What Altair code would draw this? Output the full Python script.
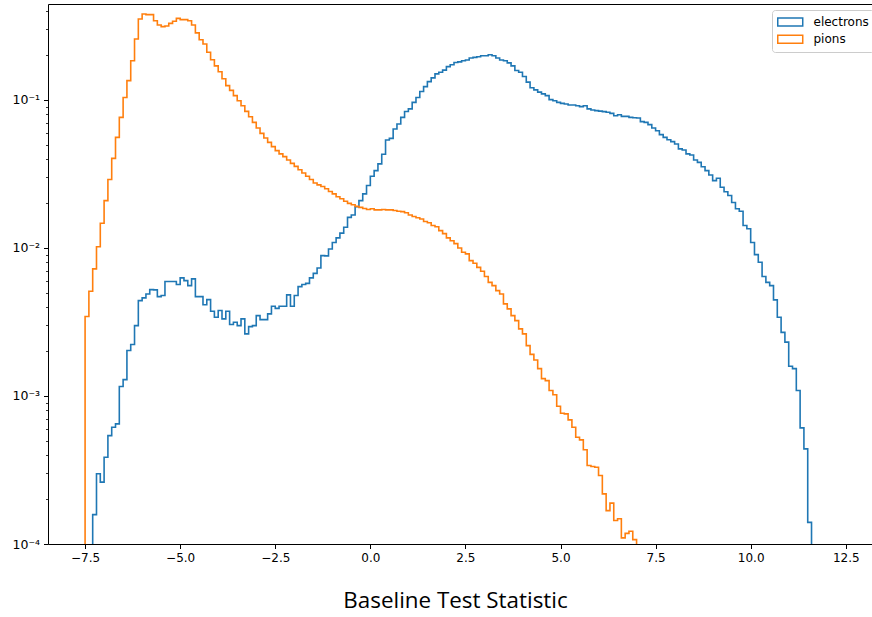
import altair as alt
import pandas as pd

# ---- data (normalised histogram, bin width 0.1) ----
BIN_WIDTH = 0.1
SERIES = ["electrons", "pions"]
COLORS = ["#1f77b4", "#ff7f0e"]

ELECTRON_FIRST_EDGE = -7.3
electron_values = [
    1.58e-4, 2.98e-4, 2.62e-4, 3.86e-4, 5.40e-4, 6.15e-4, 6.48e-4, 1.16e-3, 1.29e-3, 2.03e-3,
    2.23e-3, 2.99e-3, 4.41e-3, 4.60e-3, 4.89e-3, 5.23e-3, 5.21e-3, 4.69e-3, 4.77e-3, 5.93e-3,
    5.93e-3, 5.93e-3, 5.66e-3, 6.28e-3, 6.02e-3, 5.57e-3, 6.18e-3, 4.69e-3, 4.69e-3, 4.13e-3,
    4.48e-3, 3.74e-3, 3.40e-3, 3.78e-3, 3.32e-3, 3.74e-3, 3.04e-3, 3.15e-3, 2.99e-3, 3.32e-3,
    2.63e-3, 2.94e-3, 2.99e-3, 3.49e-3, 3.28e-3, 3.28e-3, 3.59e-3, 4.04e-3, 3.91e-3, 4.04e-3,
    4.04e-3, 4.82e-3, 4.04e-3, 4.77e-3, 5.48e-3, 5.66e-3, 5.77e-3, 6.28e-3, 6.74e-3, 7.33e-3,
    8.88e-3, 8.85e-3, 9.85e-3, 1.09e-2, 1.17e-2, 1.26e-2, 1.38e-2, 1.61e-2, 1.67e-2, 1.90e-2,
    2.09e-2, 2.32e-2, 2.64e-2, 3.05e-2, 3.33e-2, 3.70e-2, 4.30e-2, 5.37e-2, 5.50e-2, 6.37e-2,
    6.88e-2, 7.63e-2, 8.36e-2, 8.70e-2, 9.63e-2, 0.104, 0.114, 0.123, 0.133, 0.141,
    0.150, 0.154, 0.159, 0.168, 0.173, 0.179, 0.181, 0.184, 0.186, 0.192,
    0.194, 0.196, 0.199, 0.199, 0.202, 0.199, 0.192, 0.186, 0.184, 0.178,
    0.170, 0.158, 0.154, 0.144, 0.132, 0.121, 0.117, 0.113, 0.110, 0.107,
    0.1005, 9.89e-2, 9.63e-2, 9.48e-2, 9.39e-2, 9.25e-2, 9.25e-2, 9.15e-2, 9.01e-2, 9.15e-2,
    8.70e-2, 8.56e-2, 8.47e-2, 8.40e-2, 8.34e-2, 8.27e-2, 8.12e-2, 7.83e-2, 7.95e-2, 7.75e-2,
    7.75e-2, 7.63e-2, 7.59e-2, 7.56e-2, 7.14e-2, 7.06e-2, 6.81e-2, 6.47e-2, 6.20e-2, 5.83e-2,
    5.59e-2, 5.39e-2, 5.23e-2, 5.04e-2, 4.67e-2, 4.59e-2, 4.32e-2, 4.25e-2, 3.93e-2, 3.79e-2,
    3.54e-2, 3.33e-2, 3.11e-2, 2.85e-2, 2.96e-2, 2.57e-2, 2.40e-2, 2.26e-2, 2.03e-2, 1.84e-2,
    1.77e-2, 1.42e-2, 1.35e-2, 1.09e-2, 9.02e-3, 8.00e-3, 6.41e-3, 5.86e-3, 5.57e-3, 4.46e-3,
    3.40e-3, 2.69e-3, 2.31e-3, 1.59e-3, 1.53e-3, 1.09e-3, 6.09e-4, 4.39e-4, 1.40e-4,
]

PION_FIRST_EDGE = -7.5
pion_values = [
    3.44e-3, 5.10e-3, 7.22e-3, 1.02e-2, 1.47e-2, 2.09e-2, 2.90e-2, 4.03e-2, 5.59e-2, 7.63e-2,
    0.104, 0.135, 0.184, 0.258, 0.352, 0.381, 0.377, 0.377, 0.343, 0.321,
    0.313, 0.316, 0.329, 0.340, 0.356, 0.349, 0.349, 0.343, 0.321, 0.284,
    0.255, 0.239, 0.210, 0.187, 0.170, 0.155, 0.139, 0.125, 0.116, 0.107,
    9.89e-2, 9.15e-2, 8.37e-2, 7.71e-2, 7.06e-2, 6.47e-2, 5.95e-2, 5.54e-2, 5.17e-2, 4.84e-2,
    4.55e-2, 4.32e-2, 4.14e-2, 3.93e-2, 3.73e-2, 3.56e-2, 3.38e-2, 3.21e-2, 3.05e-2, 2.90e-2,
    2.75e-2, 2.67e-2, 2.60e-2, 2.51e-2, 2.41e-2, 2.32e-2, 2.22e-2, 2.15e-2, 2.07e-2, 2.00e-2,
    1.96e-2, 1.91e-2, 1.88e-2, 1.85e-2, 1.82e-2, 1.84e-2, 1.81e-2, 1.81e-2, 1.82e-2, 1.81e-2,
    1.81e-2, 1.79e-2, 1.77e-2, 1.76e-2, 1.73e-2, 1.67e-2, 1.63e-2, 1.60e-2, 1.57e-2, 1.51e-2,
    1.48e-2, 1.42e-2, 1.39e-2, 1.31e-2, 1.25e-2, 1.17e-2, 1.12e-2, 1.07e-2, 1.00e-2, 9.35e-3,
    9.12e-3, 8.21e-3, 7.88e-3, 7.40e-3, 6.96e-3, 6.41e-3, 5.86e-3, 5.57e-3, 5.15e-3, 4.89e-3,
    4.19e-3, 3.88e-3, 3.49e-3, 3.23e-3, 2.84e-3, 2.63e-3, 2.19e-3, 1.91e-3, 1.75e-3, 1.53e-3,
    1.31e-3, 1.27e-3, 1.09e-3, 1.02e-3, 8.52e-4, 7.64e-4, 7.57e-4, 6.90e-4, 6.15e-4, 5.26e-4,
    5.05e-4, 4.33e-4, 3.39e-4, 3.34e-4, 3.30e-4, 2.90e-4, 2.18e-4, 1.68e-4, 1.89e-4, 1.44e-4,
    1.48e-4, 1.10e-4, 1.18e-4, 1.22e-4, 1.07e-4,
]

X_TICKS = [-7.5, -5.0, -2.5, 0.0, 2.5, 5.0, 7.5, 10.0, 12.5]
Y_MAJOR = [1e-4, 1e-3, 1e-2, 1e-1]
Y_MINOR = [m * d for d in (1e-4, 1e-3, 1e-2) for m in range(2, 10)] + [2e-1, 3e-1, 4e-1]

X_DOMAIN = [-8.475, 13.19]
Y_DOMAIN = [1e-4, 0.445]


def step_rows(label, first_edge, values):
    """Outline of a step histogram (matplotlib histtype='step')."""
    n = len(values)
    edges = [round(first_edge + BIN_WIDTH * i, 4) for i in range(n + 1)]
    floor = Y_DOMAIN[0]
    pts = [(edges[0], floor)]
    pts += [(edges[i], values[i]) for i in range(n)]
    pts += [(edges[n], values[-1]), (edges[n], floor)]
    return [{"x": x, "y": y, "series": label, "idx": j} for j, (x, y) in enumerate(pts)]


df = pd.DataFrame(
    step_rows("electrons", ELECTRON_FIRST_EDGE, electron_values)
    + step_rows("pions", PION_FIRST_EDGE, pion_values)
)

x_scale = alt.Scale(domain=X_DOMAIN, nice=False, zero=False)
y_scale = alt.Scale(type="log", domain=Y_DOMAIN, nice=False)

y_label_expr = (
    "datum.value > 0.05 ? '10\u207b\u00b9' : datum.value > 0.005 ? '10\u207b\u00b2' : "
    "datum.value > 0.0005 ? '10\u207b\u00b3' : '10\u207b\u2074'"
)

base = alt.Chart(df)

lines = base.mark_line(interpolate="step-after", strokeWidth=1.6).encode(
    x=alt.X(
        "x:Q",
        scale=x_scale,
        axis=alt.Axis(
            orient="bottom",
            values=X_TICKS,
            format=".1f",
            title="Baseline Test Statistic",
            titleFont="Open Sans",
            titleFontSize=22.4,
            titleFontWeight="normal",
            titleColor="black",
            titleX=407,
            titleY=63,
            titleBaseline="alphabetic",
            titleAlign="center",
            labelPadding=3.5,
        ),
    ),
    y=alt.Y(
        "y:Q",
        scale=y_scale,
        axis=alt.Axis(
            orient="left",
            values=Y_MAJOR,
            labelExpr=y_label_expr,
            title=None,
            labelPadding=4,
            labelFontSize=12.5,
        ),
    ),
    color=alt.Color(
        "series:N",
        scale=alt.Scale(domain=SERIES, range=COLORS),
        legend=alt.Legend(
            title=None,
            orient="none",
            legendX=724,
            legendY=6,
            symbolType="M-1,-0.65L3,-0.65L3,0.65L-1,0.65Z",
            symbolSize=156,
            symbolStrokeWidth=1.5,
            symbolFillColor="transparent",
            labelFont="DejaVu Sans",
            labelFontSize=12,
            labelColor="black",
            labelOffset=22.5,
            padding=5,
            rowPadding=1.3,
            strokeColor="#cccccc",
            cornerRadius=3,
            fillColor="rgba(255,255,255,0.8)",
        ),
    ),
    order="idx:Q",
)

frame = base.mark_line(strokeOpacity=0).encode(
    x=alt.X(
        "x:Q",
        scale=x_scale,
        axis=alt.Axis(orient="top", labels=False, ticks=False, domain=True, title=None),
    ),
    y=alt.Y(
        "y:Q",
        scale=y_scale,
        axis=alt.Axis(
            orient="left",
            values=Y_MINOR,
            labels=False,
            domain=False,
            tickSize=2.5,
            tickWidth=0.8,
            title=None,
        ),
    ),
    detail="series:N",
    order="idx:Q",
)

chart = (
    alt.layer(lines, frame)
    .resolve_axis(x="independent", y="independent")
    .properties(
        width=824,
        height=540,
        autosize=alt.AutoSizeParams(type="none"),
        padding={"left": 48, "top": 4, "right": 0, "bottom": 73},
    )
    .configure_view(strokeWidth=0)
    .configure_axis(
        grid=False,
        labelFont="DejaVu Sans",
        labelFontSize=12,
        labelColor="black",
        domainColor="black",
        domainWidth=1,
        tickColor="black",
        tickWidth=1,
        tickSize=4.5,
    )
)

chart.save("out.html", embed_options={"renderer": "svg", "actions": False})
